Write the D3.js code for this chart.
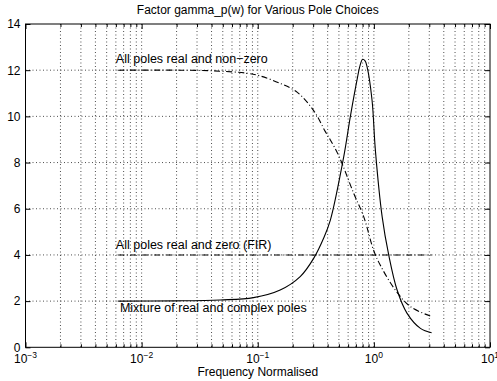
<!DOCTYPE html>
<html>
<head>
<meta charset="utf-8">
<script src="https://cdn.jsdelivr.net/npm/d3@7/dist/d3.min.js"></script>
<style>
  html, body { margin: 0; padding: 0; background: #fff; }
  text { font-family: "Liberation Sans", Arial, Helvetica, sans-serif; fill: #000; }
</style>
</head>
<body>
<svg id="chart" width="497" height="381"></svg>
<script>
// ---- data ----
const title = "Factor gamma_p(w) for Various Pole Choices";
const xLabel = "Frequency Normalised";
const xTickValues = [1e-3, 1e-2, 1e-1, 1, 10];
const xTickExponents = ["\u22123", "\u22122", "\u22121", "0", "1"];
const yTickValues = [0, 2, 4, 6, 8, 10, 12, 14];

// All poles real and non-zero (dash-dot)
const freqNonZero = [0.00628, 0.0215, 0.0416, 0.0807, 0.105, 0.156, 0.218, 0.303, 0.382, 0.422, 0.498, 0.670, 0.817, 0.995, 1.137, 1.531, 2.064, 3.1416];
const gammaNonZero = [12.0, 12.0, 11.97, 11.87, 11.75, 11.43, 11.05, 10.25, 9.34, 8.98, 8.3, 6.67, 5.66, 4.2, 3.55, 2.48, 1.76, 1.33];

// All poles real and zero (FIR) (dash-dot)
const freqFIR = [0.00628, 3.1416];
const gammaFIR = [4.0, 4.0];

// Mixture of real and complex poles (solid)
const freqMix = [0.00628, 0.02, 0.0475, 0.092, 0.156, 0.232, 0.303, 0.369, 0.422, 0.55, 0.627, 0.716, 0.760, 0.800, 0.840, 0.873, 0.964, 1.03, 1.178, 1.342, 1.585, 1.932, 2.518, 3.1416];
const gammaMix = [2.0, 2.01, 2.05, 2.15, 2.48, 3.06, 3.85, 4.72, 5.51, 8.25, 9.99, 11.58, 12.2, 12.47, 12.4, 12.15, 10.71, 8.54, 5.66, 4.0, 2.48, 1.47, 0.82, 0.63];

const annotations = [
  { text: "All poles real and non\u2212zero", w: 0.006, v: 12.5 },
  { text: "All poles real and zero (FIR)", w: 0.006, v: 4.45 },
  { text: "Mixture of real and complex poles", w: 0.0065, v: 1.7 }
];

// ---- layout ----
const mLeft = 25.5, mRight = 490, mTop = 24, mBottom = 347.3;
const svg = d3.select("#chart");

const x = d3.scaleLog().domain([1e-3, 10]).range([mLeft, mRight]);
const y = d3.scaleLinear().domain([0, 14]).range([mBottom, mTop]);

// minor x values
const minorX = [];
for (let e = -3; e < 1; e++) for (let m = 2; m <= 9; m++) minorX.push(m * Math.pow(10, e));

// grid
const grid = svg.append("g").attr("stroke", "#000").attr("stroke-width", 0.7)
  .attr("stroke-dasharray", "1,2.5").attr("fill", "none");
[...minorX, ...xTickValues.slice(1, -1)].forEach(v => {
  grid.append("line").attr("x1", x(v)).attr("x2", x(v)).attr("y1", mTop).attr("y2", mBottom);
});
yTickValues.slice(1, -1).forEach(v => {
  grid.append("line").attr("x1", mLeft).attr("x2", mRight).attr("y1", y(v)).attr("y2", y(v));
});

// axes (inward ticks)
const fmtNone = () => "";
const axB = svg.append("g").attr("transform", `translate(0,${mBottom})`)
  .call(d3.axisBottom(x).tickValues(xTickValues).tickSize(-5).tickFormat(fmtNone));
const axBm = svg.append("g").attr("transform", `translate(0,${mBottom})`)
  .call(d3.axisBottom(x).tickValues(minorX).tickSize(-3).tickFormat(fmtNone));
const axT = svg.append("g").attr("transform", `translate(0,${mTop})`)
  .call(d3.axisTop(x).tickValues(xTickValues).tickSize(-5).tickFormat(fmtNone));
const axTm = svg.append("g").attr("transform", `translate(0,${mTop})`)
  .call(d3.axisTop(x).tickValues(minorX).tickSize(-3).tickFormat(fmtNone));
const axL = svg.append("g").attr("transform", `translate(${mLeft},0)`)
  .call(d3.axisLeft(y).tickValues(yTickValues).tickSize(-5).tickPadding(5).tickFormat(d3.format("d")));
const axR = svg.append("g").attr("transform", `translate(${mRight},0)`)
  .call(d3.axisRight(y).tickValues(yTickValues).tickSize(-5).tickFormat(fmtNone));
[axB, axBm, axT, axTm, axL, axR].forEach(g => {
  g.select(".domain").remove();
  g.selectAll("line").attr("stroke", "#000").attr("stroke-width", 1);
});
axL.selectAll("text").attr("font-size", 12).attr("font-family", "Liberation Sans, Arial, sans-serif").attr("fill", "#000");

// x tick labels with superscripts
xTickValues.forEach((v, i) => {
  const t = svg.append("text").attr("x", x(v)).attr("y", 363).attr("text-anchor", "middle")
    .attr("font-size", 12);
  t.append("tspan").text("10");
  t.append("tspan").attr("dy", -5).attr("font-size", 8.5).text(xTickExponents[i]);
});

// box
svg.append("rect").attr("x", mLeft).attr("y", mTop).attr("width", mRight - mLeft).attr("height", mBottom - mTop)
  .attr("fill", "none").attr("stroke", "#000").attr("stroke-width", 1);

// lines
const line = d3.line().x(d => x(d[0])).y(d => y(d[1])).curve(d3.curveCatmullRom.alpha(0.5));
const series = [
  { f: freqNonZero, g: gammaNonZero, dash: "6,2.5,1,2.5" },
  { f: freqFIR, g: gammaFIR, dash: "6,2.5,1,2.5" },
  { f: freqMix, g: gammaMix, dash: null }
];
series.forEach(s => {
  svg.append("path").datum(s.f.map((w, i) => [w, s.g[i]]))
    .attr("d", line).attr("fill", "none").attr("stroke", "#000").attr("stroke-width", 1.1)
    .attr("stroke-dasharray", s.dash);
});

// annotations
annotations.forEach(a => {
  svg.append("text").attr("x", x(a.w)).attr("y", y(a.v)).attr("dy", "0.35em")
    .attr("font-size", 12.5).text(a.text);
});

// title and x label
svg.append("text").attr("x", (mLeft + mRight) / 2).attr("y", 14).attr("text-anchor", "middle")
  .attr("font-size", 12).text(title);
svg.append("text").attr("x", (mLeft + mRight) / 2).attr("y", 376).attr("text-anchor", "middle")
  .attr("font-size", 12).text(xLabel);
</script>
</body>
</html>
